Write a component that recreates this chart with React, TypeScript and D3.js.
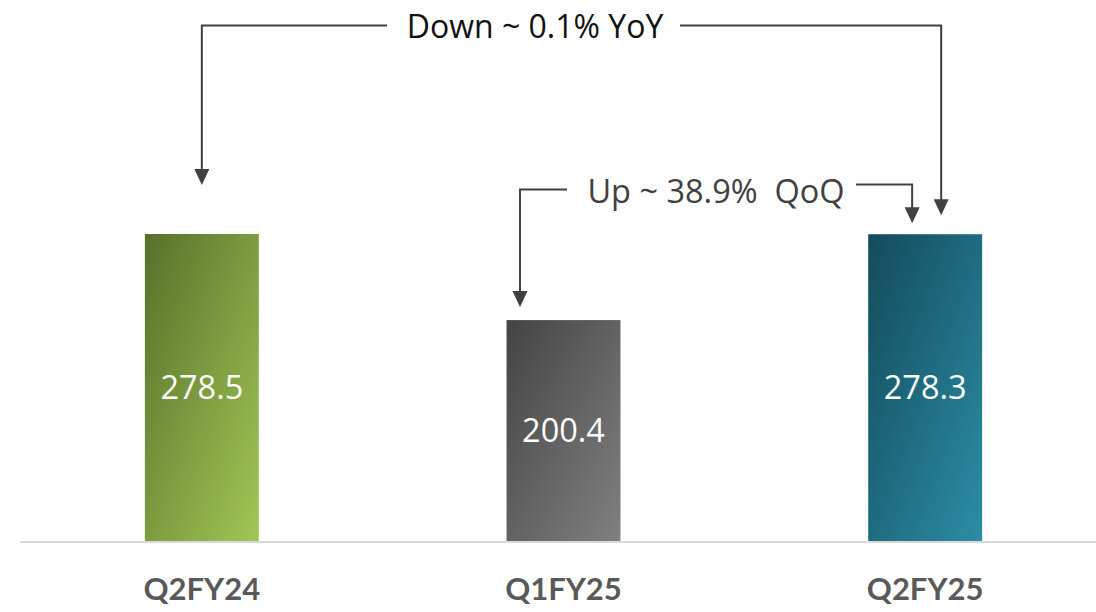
import React from "react";
import * as d3 from "d3";

const categories = ["Q2FY24", "Q1FY25", "Q2FY25"];
const values = [278.5, 200.4, 278.3];
const valueLabels = ["278.5", "200.4", "278.3"];
const gradientStops: [string, string][] = [
  ["#57712a", "#a2c655"],
  ["#444444", "#808080"],
  ["#134b5b", "#2b8da6"],
];
const yoyLabel = "Down ~ 0.1% YoY";
const qoqLabel = "Up ~ 38.9%  QoQ";

const W = 1096;
const H = 612;
const baseY = 541;

export default function App() {
  const x = d3
    .scaleBand<string>()
    .domain(categories)
    .range([21, 1106])
    .paddingInner(0.685)
    .paddingOuter(0.3425);
  const y = d3.scaleLinear().domain([0, 300]).range([baseY, baseY - 330.7]);
  const cx = (c: string) => (x(c) ?? 0) + x.bandwidth() / 2;

  const lineColor = "#404040";
  const head = (tx: number, ty: number) =>
    `M${tx - 7.5},${ty - 16} L${tx + 7.5},${ty - 16} L${tx},${ty} Z`;

  // YoY bracket: from Q2FY25 back to Q2FY24
  const yoyY = 25.5;
  const yoyL = cx(categories[0]);
  const yoyLTip = y(values[0]) - 49;
  const yoyR = cx(categories[2]) + 16;
  const yoyRTip = y(values[2]) - 19;

  // QoQ bracket: from Q2FY25 back to Q1FY25
  const qoqL = cx(categories[1]) - 43.5;
  const qoqLTip = y(values[1]) - 13;
  const qoqLY = 189.5;
  const qoqR = cx(categories[2]) - 13;
  const qoqRY = 184.5;
  const qoqRTip = y(values[2]) - 11;

  const valueFont = "'Open Sans', 'Noto Sans', sans-serif";

  return (
    <svg width={W} height={H} style={{ position: "absolute", left: 0, top: 0, background: "#fff" }}>
      <defs>
        {gradientStops.map((g, i) => (
          <linearGradient key={i} id={`bar-grad-${i}`} x1="0" y1="0" x2="1" y2="1">
            <stop offset="0%" stopColor={g[0]} />
            <stop offset="100%" stopColor={g[1]} />
          </linearGradient>
        ))}
      </defs>

      {categories.map((c, i) => (
        <g key={c}>
          <rect
            x={x(c)}
            y={y(values[i])}
            width={x.bandwidth()}
            height={baseY - y(values[i])}
            fill={`url(#bar-grad-${i})`}
          />
          <text
            x={cx(c)}
            y={(y(values[i]) + baseY) / 2 + 3}
            textAnchor="middle"
            dominantBaseline="middle"
            fill="#fff"
            fontFamily={valueFont}
            fontSize={32.5}
          >
            {valueLabels[i]}
          </text>
          <text
            x={cx(c)}
            y={592}
            textAnchor="middle"
            dominantBaseline="middle"
            fill="#595959"
            fontFamily="Lato, 'Open Sans', sans-serif"
            fontWeight="bold"
            fontSize={31}
          >
            {c}
          </text>
        </g>
      ))}

      <line x1={20} x2={W} y1={542} y2={542} stroke="#d9d9d9" strokeWidth={2} />

      {/* YoY bracket */}
      <path
        d={`M387,${yoyY} H${yoyL} V${yoyLTip - 14}`}
        fill="none"
        stroke={lineColor}
        strokeWidth={2}
      />
      <path d={head(yoyL, yoyLTip)} fill={lineColor} />
      <path
        d={`M680,${yoyY} H${yoyR} V${yoyRTip - 14}`}
        fill="none"
        stroke={lineColor}
        strokeWidth={2}
      />
      <path d={head(yoyR, yoyRTip)} fill={lineColor} />
      <text
        x={535}
        y={29}
        textAnchor="middle"
        dominantBaseline="middle"
        fill="#111"
        fontFamily={valueFont}
        fontSize={32}
      >
        {yoyLabel}
      </text>

      {/* QoQ bracket */}
      <path
        d={`M567,${qoqLY} H${qoqL} V${qoqLTip - 14}`}
        fill="none"
        stroke={lineColor}
        strokeWidth={2}
      />
      <path d={head(qoqL, qoqLTip)} fill={lineColor} />
      <path
        d={`M856,${qoqRY} H${qoqR} V${qoqRTip - 14}`}
        fill="none"
        stroke={lineColor}
        strokeWidth={2}
      />
      <path d={head(qoqR, qoqRTip)} fill={lineColor} />
      <text
        x={716}
        y={194}
        textAnchor="middle"
        dominantBaseline="middle"
        fill="#404040"
        fontFamily={valueFont}
        fontSize={32.5}
        style={{ whiteSpace: "pre" }}
      >
        {qoqLabel}
      </text>
    </svg>
  );
}
